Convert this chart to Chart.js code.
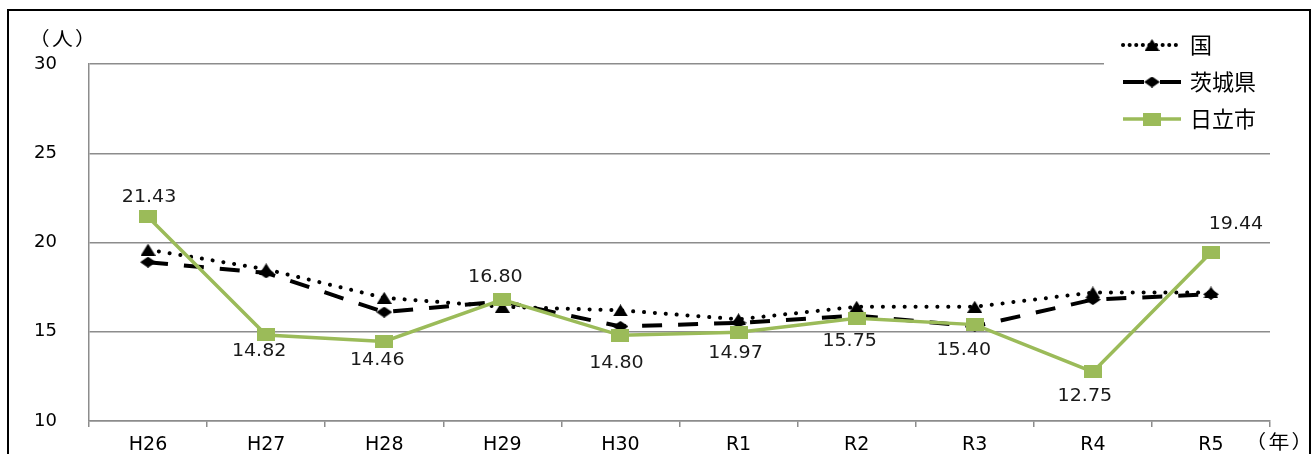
<!DOCTYPE html>
<html>
<head>
<meta charset="utf-8">
<script src="https://cdn.jsdelivr.net/npm/chart.js@4.4.1/dist/chart.umd.min.js"></script>
<style>
  html, body { margin: 0; padding: 0; background: #fff; overflow: hidden; }
  canvas { display: block; }
</style>
</head>
<body>
<canvas id="chart" width="1312" height="454"></canvas>
<script>
// Fiscal years on the horizontal axis
const years = ['H26', 'H27', 'H28', 'H29', 'H30', 'R1', 'R2', 'R3', 'R4', 'R5'];
// Values per year (人)
const national = [19.6, 18.5, 16.9, 16.4, 16.2, 15.7, 16.4, 16.4, 17.2, 17.2];
const ibaraki  = [18.9, 18.3, 16.1, 16.7, 15.3, 15.5, 15.9, 15.3, 16.8, 17.1];
const hitachi  = [21.43, 14.82, 14.46, 16.80, 14.80, 14.97, 15.75, 15.40, 12.75, 19.44];
// Value axis ticks
const yTicks = [10, 15, 20, 25, 30];
const seriesNames = ['国', '茨城県', '日立市'];

const GREEN = '#9bbb59';
const GRID = '#8c8c8c';
const LATIN = '"DejaVu Sans", Verdana, sans-serif';
const CJK = '"Noto Sans CJK JP", "Noto Sans", sans-serif';

// Marker bitmaps (slightly wide shapes)
function marker(w, h, color, shape) {
  const c = document.createElement('canvas');
  c.width = w; c.height = h;
  const g = c.getContext('2d');
  g.fillStyle = color;
  g.beginPath();
  if (shape === 'triangle') {
    g.moveTo(w / 2, 0); g.lineTo(w, h); g.lineTo(0, h);
  } else if (shape === 'diamond') {
    g.moveTo(w / 2, 0); g.lineTo(w, h / 2); g.lineTo(w / 2, h); g.lineTo(0, h / 2);
  } else {
    g.rect(0, 0, w, h);
  }
  g.closePath();
  g.fill();
  return c;
}
const triMark = marker(15, 12, '#000', 'triangle');
const diaMark = marker(16, 11, '#000', 'diamond');
const sqMark = marker(18, 13, GREEN, 'square');

const styles = [
  { color: '#000', width: 4, dash: [0.1, 10.8], cap: 'round', mark: triMark, legendDash: [0.1, 6.5] },
  { color: '#000', width: 4, dash: [20, 16], cap: 'butt', mark: diaMark, legendDash: [21, 16] },
  { color: GREEN, width: 3.5, dash: [], cap: 'butt', mark: sqMark, legendDash: [] }
];

// Value labels for the 日立市 series: [dx, dy] from each point
const labelOffsets = [[1, -19], [-7, 17], [-7, 19], [-7, -22], [-4, 28], [-3, 21], [-7, 23], [-11, 26], [-8, 25], [25, -28]];

// Draws text slightly widened, like the axis lettering
function wideText(ctx, text, x, y, stretch) {
  ctx.save();
  ctx.translate(x, y);
  ctx.scale(stretch, 1);
  ctx.fillText(text, 0, 0);
  ctx.restore();
}

const framePlugin = {
  id: 'frame',
  beforeDraw(chart) {
    const ctx = chart.ctx;
    ctx.save();
    ctx.fillStyle = '#fff';
    ctx.fillRect(0, 0, chart.width, chart.height);
    ctx.strokeStyle = '#000';
    ctx.lineWidth = 2;
    ctx.strokeRect(8, 10, 1302, 470);
    ctx.restore();
  },
  afterDraw(chart) {
    // unit captions for both axes
    const ctx = chart.ctx;
    ctx.save();
    ctx.fillStyle = '#000';
    ctx.font = '19px ' + CJK;
    ctx.letterSpacing = '2px';
    ctx.textAlign = 'center';
    ctx.textBaseline = 'middle';
    wideText(ctx, '（人）', 63.5, 39, 1.1);
    wideText(ctx, '（年）', 1280, 442, 1.1);
    ctx.restore();
  }
};

const valueLabelPlugin = {
  id: 'valueLabels',
  afterDatasetsDraw(chart) {
    const ctx = chart.ctx;
    const meta = chart.getDatasetMeta(2);
    ctx.save();
    ctx.fillStyle = '#1a1a1a';
    ctx.font = '17px ' + LATIN;
    ctx.textAlign = 'center';
    ctx.textBaseline = 'middle';
    meta.data.forEach((pt, i) => {
      const [dx, dy] = labelOffsets[i];
      wideText(ctx, hitachi[i].toFixed(2), pt.x + dx, pt.y + dy, 1.12);
    });
    ctx.restore();
  }
};

const legendPlugin = {
  id: 'seriesLegend',
  afterDatasetsDraw(chart) {
    const ctx = chart.ctx;
    ctx.save();
    ctx.fillStyle = '#fff';
    ctx.fillRect(1104, 24, 196, 118);
    const rows = [45, 82, 119];
    seriesNames.forEach((name, i) => {
      const s = styles[i];
      const y = rows[i];
      ctx.beginPath();
      ctx.strokeStyle = s.color;
      ctx.lineWidth = s.width;
      ctx.lineCap = s.cap;
      ctx.setLineDash(s.legendDash);
      ctx.moveTo(1123, y);
      ctx.lineTo(1181, y);
      ctx.stroke();
      ctx.setLineDash([]);
      ctx.drawImage(s.mark, 1152 - s.mark.width / 2, y - s.mark.height / 2);
      ctx.fillStyle = '#000';
      ctx.font = '22px ' + CJK;
      ctx.textAlign = 'left';
      ctx.textBaseline = 'middle';
      ctx.fillText(name, 1190, y);
    });
    ctx.restore();
  }
};

const seriesValues = [national, ibaraki, hitachi];
const datasets = seriesNames.map((name, i) => ({
  label: name,
  data: seriesValues[i],
  borderColor: styles[i].color,
  backgroundColor: styles[i].color,
  borderWidth: styles[i].width,
  borderDash: styles[i].dash,
  borderCapStyle: styles[i].cap,
  pointStyle: styles[i].mark,
  pointRadius: 6,
  pointHoverRadius: 6,
  tension: 0,
  fill: false,
  order: 3 - i
}));

new Chart(document.getElementById('chart'), {
  type: 'line',
  data: { labels: years, datasets },
  plugins: [framePlugin, valueLabelPlugin, legendPlugin],
  options: {
    responsive: false,
    animation: false,
    events: [],
    layout: { padding: { top: 64, right: 42, left: 0, bottom: 0 } },
    plugins: { legend: { display: false }, tooltip: { enabled: false } },
    scales: {
      x: {
        offset: true,
        grid: { offset: true, drawOnChartArea: false, drawTicks: true, tickLength: 6, color: GRID, lineWidth: 1.5 },
        border: { display: true, color: GRID, width: 1.5 },
        ticks: { color: '#000', font: { family: LATIN, size: 19 }, padding: 7, maxRotation: 0, autoSkip: false },
        afterFit(scale) { scale.height = 33; }
      },
      y: {
        min: 10,
        max: 30,
        afterBuildTicks(scale) { scale.ticks = yTicks.map(v => ({ value: v })); },
        grid: { drawTicks: false, color: GRID, lineWidth: 1.5 },
        border: { display: true, color: GRID, width: 1.5 },
        ticks: { color: '#000', font: { family: LATIN, size: 18 }, padding: 32 },
        afterFit(scale) {
          scale.width = 89;
          scale.paddingTop = 0;
          scale.paddingBottom = 0;
        }
      }
    }
  }
});
</script>
</body>
</html>
